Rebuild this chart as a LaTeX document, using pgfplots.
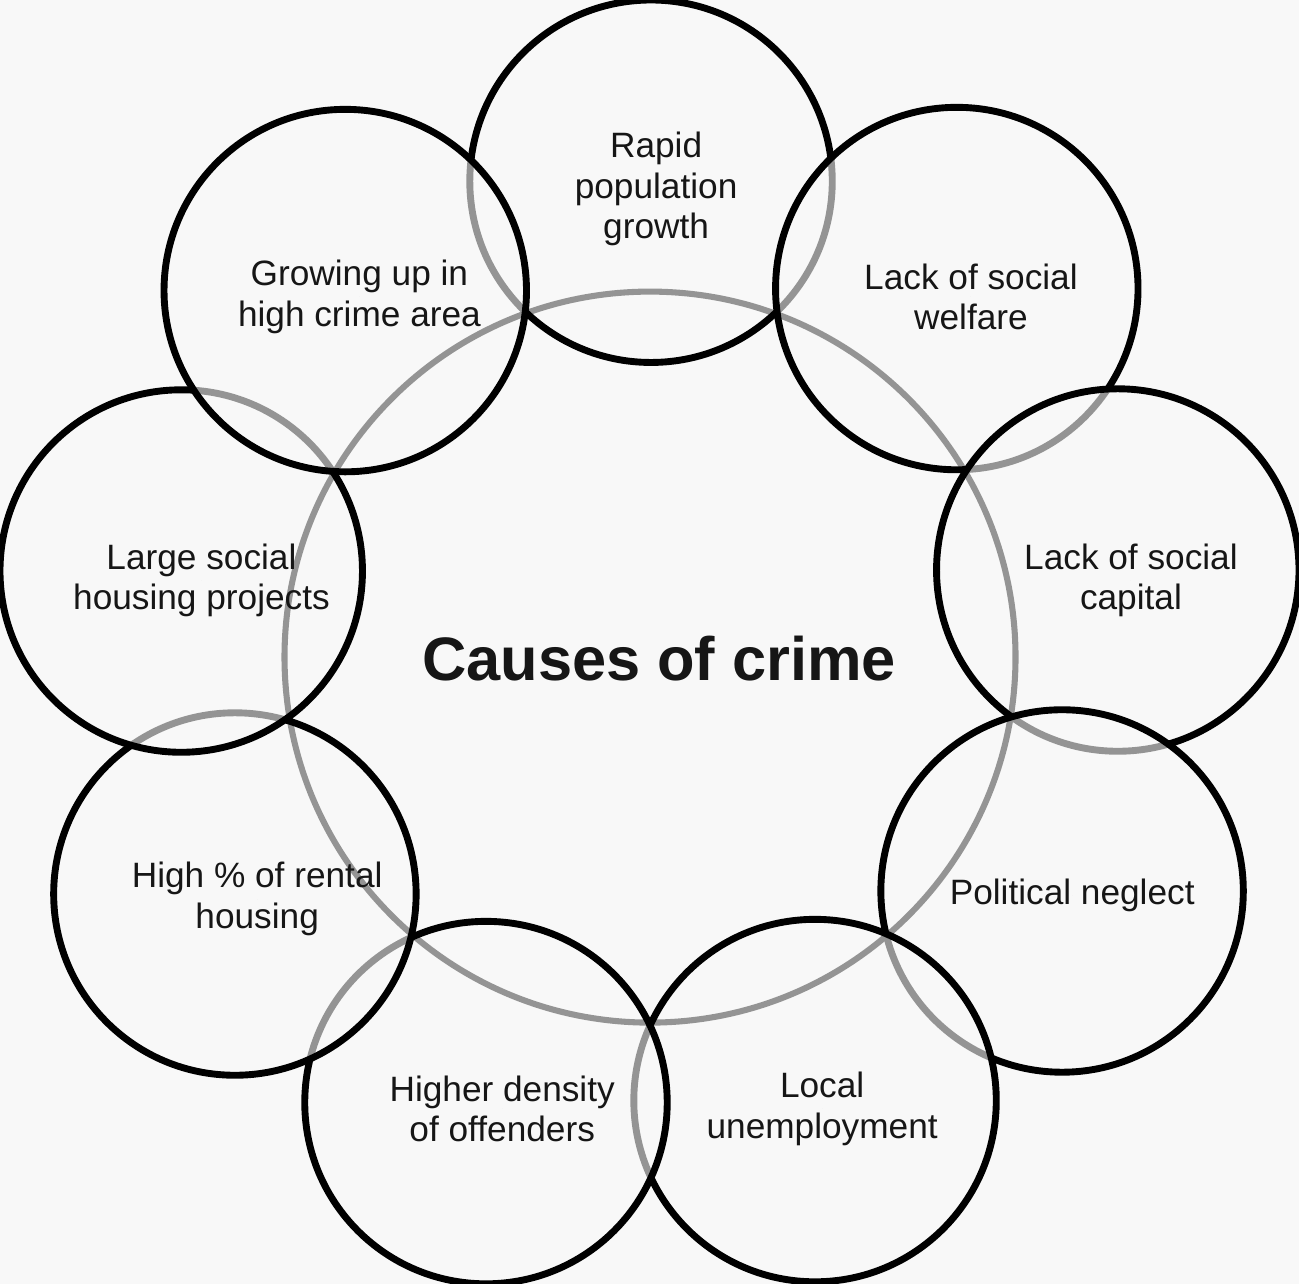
\documentclass[border=0pt]{standalone}
\usepackage{pgfplots}
\pgfplotsset{compat=1.18}
\usepackage{fontspec}
\setmainfont{Liberation Sans}
\usetikzlibrary{backgrounds}
\definecolor{bg}{RGB}{248,248,248}
\definecolor{txt}{RGB}{22,22,22}
\begin{document}
\begin{tikzpicture}[show background rectangle, inner frame sep=0pt,
  background rectangle/.style={fill=bg, draw=none}]
\begin{axis}[
  xmin=0, xmax=1299, ymin=0, ymax=1283, y dir=reverse,
  width=649.5pt, height=641.5pt, scale only axis,
  hide axis, clip=false,
]
% central circle (behind everything)
\addplot[only marks, mark=o, mark size=180.5pt,
  mark options={draw=black, line width=3pt, fill=none}]
  coordinates {(655,660)};
% nine cause circles, drawn bottom to top
\addplot[only marks, mark=*, mark size=89.5pt,
  mark options={draw=black, line width=3.4pt, fill=bg, fill opacity=0.6}]
  coordinates {
    (656,190)   % Rapid population growth
    (958,296)   % Lack of social welfare
    (1117,574)  % Lack of social capital
    (1062,891)  % Political neglect
    (818,1098)  % Local unemployment
    (493,1100)  % Higher density of offenders
    (245,894)   % High % of rental housing
    (192,575)   % Large social housing projects
    (354,298)   % Growing up in high crime area
  };
% labels
\addplot[only marks, mark=*, mark size=0pt, mark options={draw=none, fill=none},
  point meta=explicit symbolic, nodes near coords,
  nodes near coords style={anchor=center, align=center, inner sep=0pt,
    text=txt, font=\fontsize{17.4}{20}\selectfont}]
  coordinates {
    (661,198) [Rapid\\population\\growth]
    (972,304) [Lack of social\\welfare]
    (1130,584) [Lack of social\\capital]
    (1072,895) [Political neglect]
    (825,1106) [Local\\unemployment]
    (509,1106) [Higher density\\of offenders]
    (267,899) [High \% of rental\\housing]
    (212,584) [Large social\\housing projects]
    (368,304) [Growing up in\\high crime area]
  };
\addplot[only marks, mark=*, mark size=0pt, mark options={draw=none, fill=none},
  point meta=explicit symbolic, nodes near coords,
  nodes near coords style={anchor=center, inner sep=0pt,
    text=txt, font=\bfseries\fontsize{30.3}{36}\selectfont}]
  coordinates {(664,661) [Causes of crime]};
\end{axis}
\end{tikzpicture}
\end{document}
